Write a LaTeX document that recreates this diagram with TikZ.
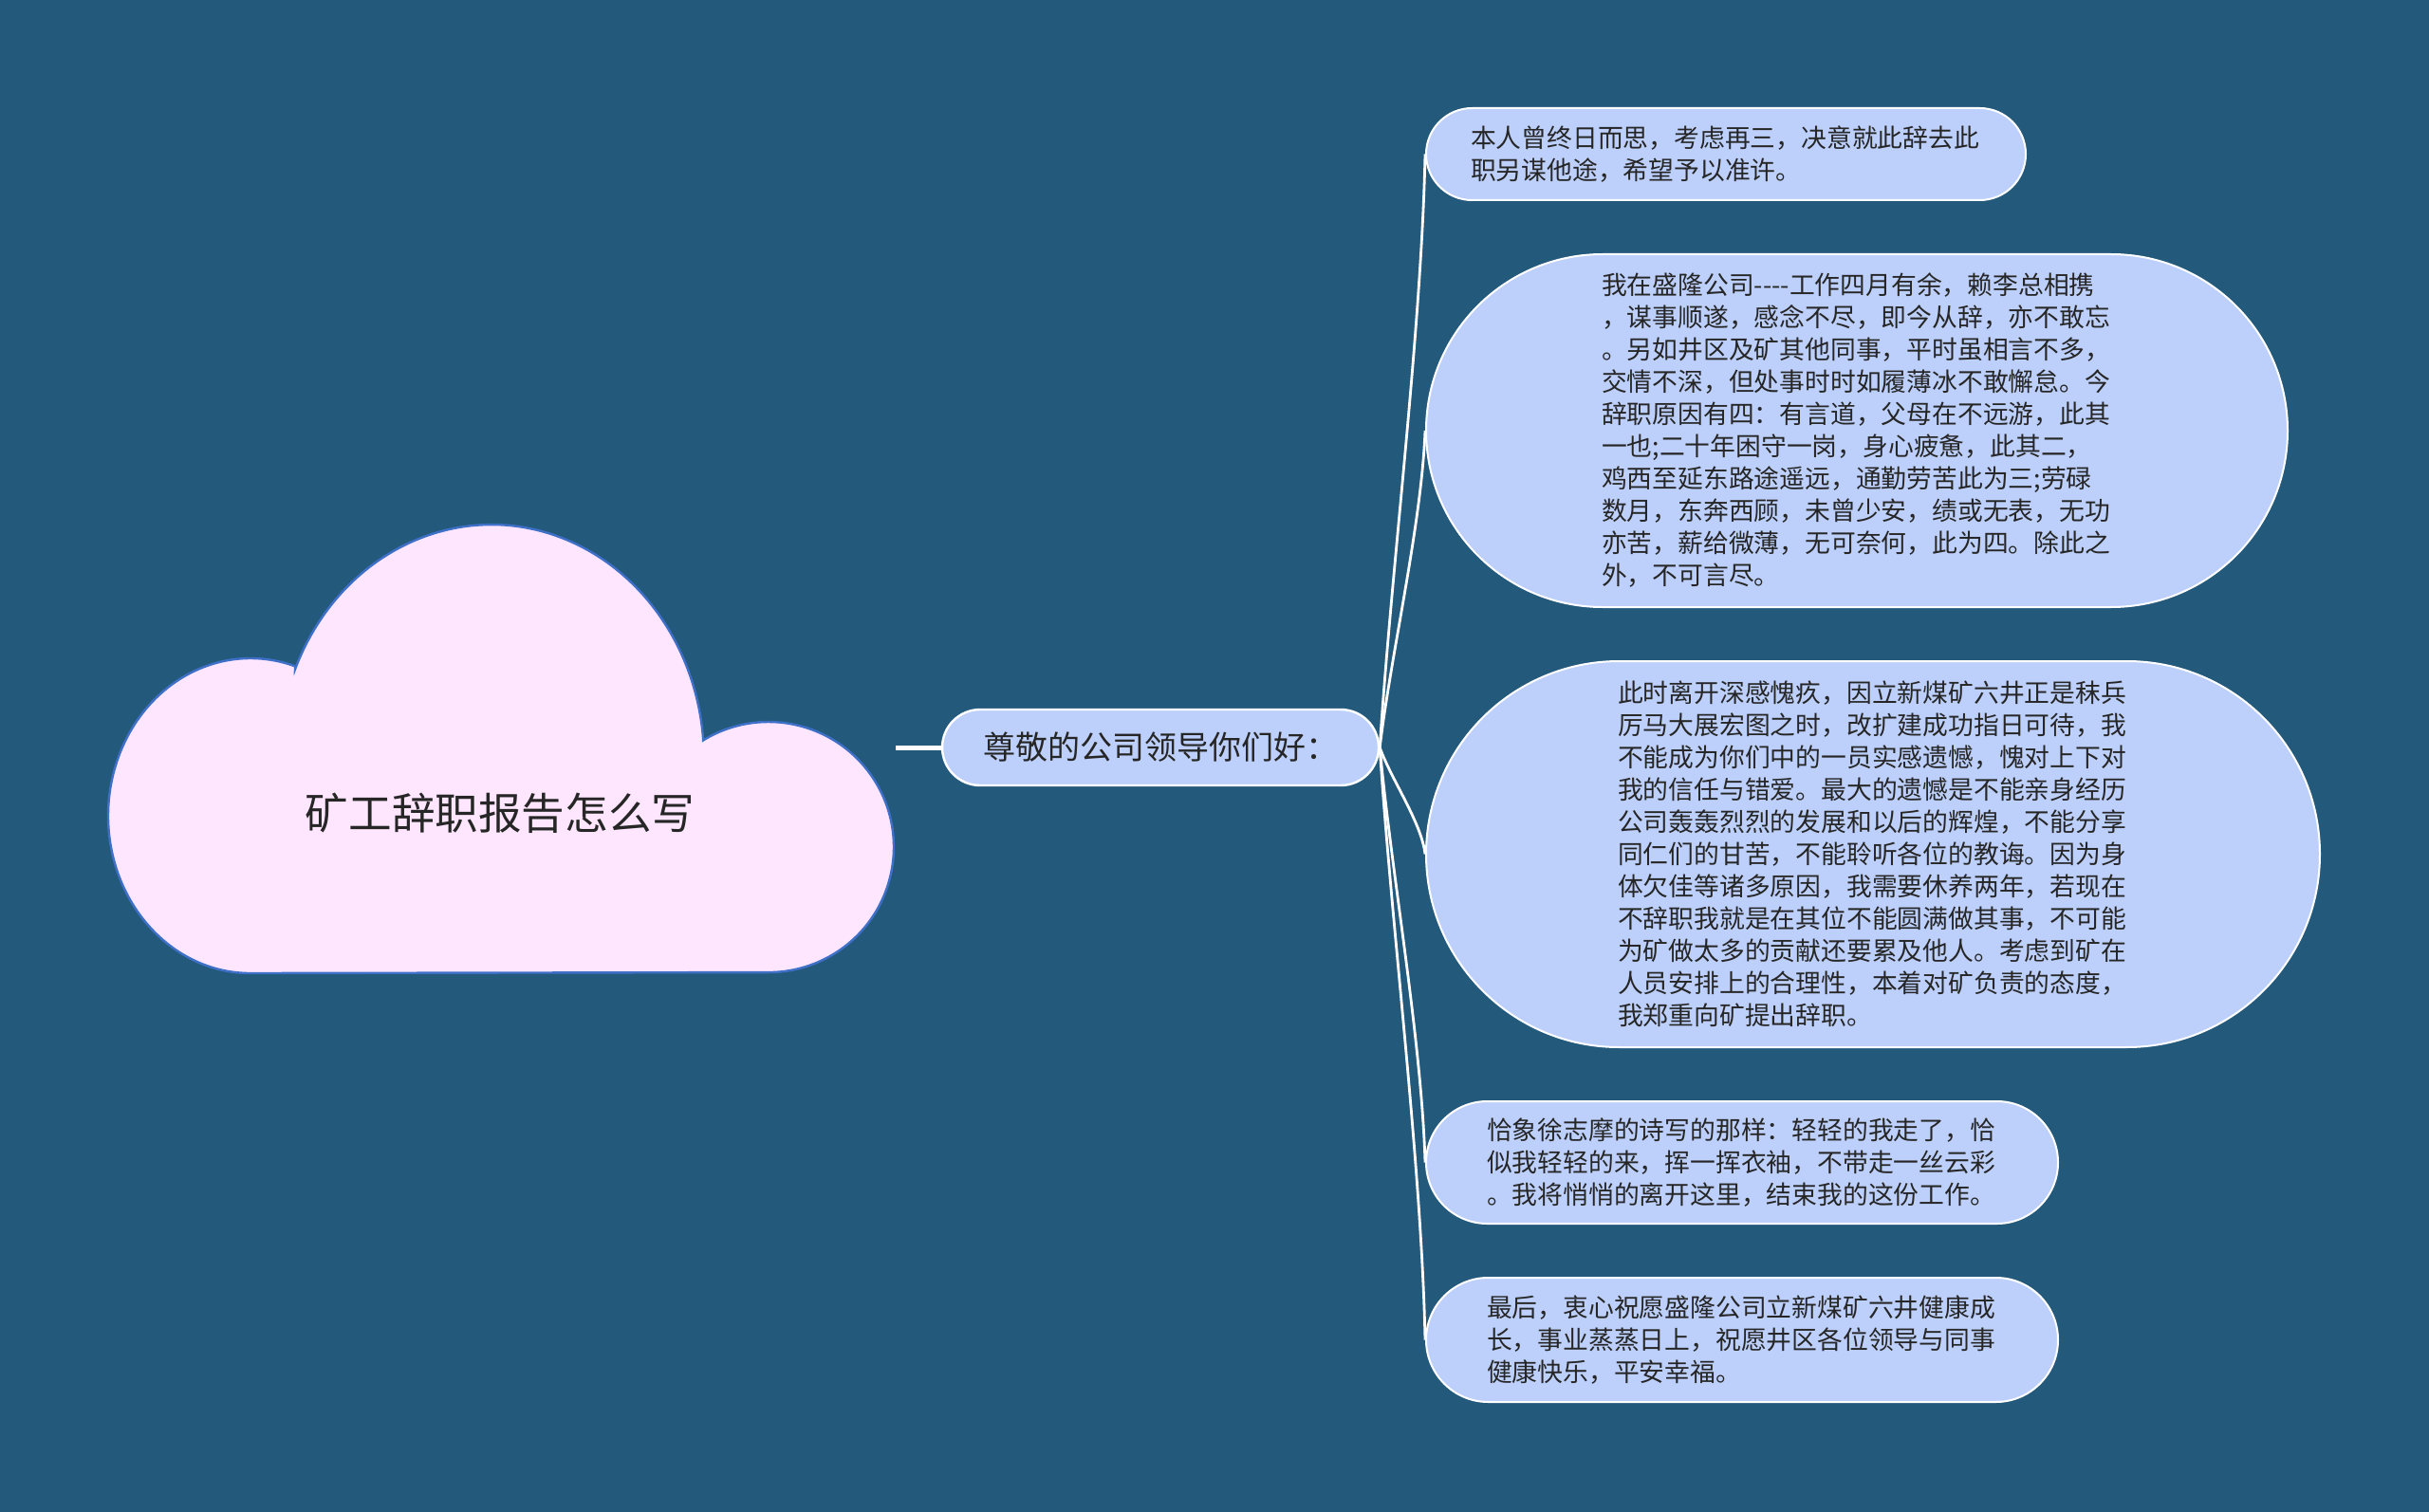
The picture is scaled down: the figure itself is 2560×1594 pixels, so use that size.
\documentclass[tikz,border=0pt]{standalone}
\usepackage{fontspec}
\setmainfont{Noto Sans CJK SC}
\usetikzlibrary{shapes.misc,calc}
\definecolor{bg}{RGB}{35,89,123}
\definecolor{leaf}{RGB}{189,208,251}
\definecolor{cloudfill}{RGB}{255,230,255}
\definecolor{cloudline}{RGB}{62,112,200}
\definecolor{ink}{RGB}{38,38,38}
\tikzset{
  leafbox/.style={rounded rectangle, fill=leaf, draw=white, line width=1pt,
    text width=269pt, align=left, inner xsep=0pt, inner ysep=0pt,
    font=\fontsize{13.4pt}{17pt}\selectfont, text=ink, anchor=west},
  hubbox/.style={rounded rectangle, fill=leaf, draw=white, line width=1.2pt,
    inner xsep=0pt, inner ysep=0pt, minimum height=40pt, minimum width=230pt,
    font=\fontsize{17pt}{20pt}\selectfont, text=ink},
  trunk/.style={draw=white, line width=2.5pt},
  twig/.style={draw=white, line width=1.4pt}
}
\begin{document}
\begin{tikzpicture}[x=0.5pt,y=-0.5pt]
\fill[bg] (0,0) rectangle (2560,1594);
\useasboundingbox (0,0) rectangle (2560,1594);

% cloud
\draw[fill=cloudfill, draw=cloudline, line width=1.2pt]
  (264,1026) arc[start angle=90, end angle=288.3, x radius=150, y radius=166]
  -- (311,705.6) arc[start angle=202.5, end angle=354.6, x radius=224, y radius=247]
  -- (741,780.5) arc[start angle=238.5, end angle=450, x radius=132, y radius=132]
  -- cycle;
\node[font=\fontsize{22.8pt}{26pt}\selectfont, text=ink] (title) at (527,857) {矿工辞职报告怎么写};
\coordinate (cloudR) at (944,788);

% hub
\node[hubbox] (hub) at (1223,788) {尊敬的公司领导你们好：};
\draw[trunk] (cloudR) -- (hub.west);

% leaves
\node[leafbox, minimum height=48.5pt, minimum width=316pt] (c1) at (1502,162.5)
 {本人曾终日而思，考虑再三，决意就此辞去此\\职另谋他途，希望予以准许。};
\node[leafbox, minimum height=186pt, minimum width=454pt] (c2) at (1502,454)
 {我在盛隆公司-\kern0pt-\kern0pt-\kern0pt-工作四月有余，赖李总相携\\
，谋事顺遂，感念不尽，即今从辞，亦不敢忘\\
。另如井区及矿其他同事，平时虽相言不多，\\
交情不深，但处事时时如履薄冰不敢懈怠。今\\
辞职原因有四：有言道，父母在不远游，此其\\
一也;二十年困守一岗，身心疲惫，此其二，\\
鸡西至延东路途遥远，通勤劳苦此为三;劳碌\\
数月，东奔西顾，未曾少安，绩或无表，无功\\
亦苦，薪给微薄，无可奈何，此为四。除此之\\
外，不可言尽。};
\node[leafbox, minimum height=203.5pt, minimum width=471pt] (c3) at (1502,900.5)
 {此时离开深感愧疚，因立新煤矿六井正是秣兵\\
厉马大展宏图之时，改扩建成功指日可待，我\\
不能成为你们中的一员实感遗憾，愧对上下对\\
我的信任与错爱。最大的遗憾是不能亲身经历\\
公司轰轰烈烈的发展和以后的辉煌，不能分享\\
同仁们的甘苦，不能聆听各位的教诲。因为身\\
体欠佳等诸多原因，我需要休养两年，若现在\\
不辞职我就是在其位不能圆满做其事，不可能\\
为矿做太多的贡献还要累及他人。考虑到矿在\\
人员安排上的合理性，本着对矿负责的态度，\\
我郑重向矿提出辞职。};
\node[leafbox, minimum height=64.5pt, minimum width=333pt] (c4) at (1502,1225.5)
 {恰象徐志摩的诗写的那样：轻轻的我走了，恰\\
似我轻轻的来，挥一挥衣袖，不带走一丝云彩\\
。我将悄悄的离开这里，结束我的这份工作。};
\node[leafbox, minimum height=65.5pt, minimum width=333pt] (c5) at (1502,1412.5)
 {最后，衷心祝愿盛隆公司立新煤矿六井健康成\\
长，事业蒸蒸日上，祝愿井区各位领导与同事\\
健康快乐，平安幸福。};

\foreach \c in {c1,c2,c3,c4,c5}
  \draw[twig] let \p1=(hub.east), \p2=(\c.west) in
    (\p1) .. controls (\x1+6pt, {\y1+0.3*(\y2-\y1)}) and (\x2-2pt, {\y2-0.3*(\y2-\y1)}) .. (\p2);
\end{tikzpicture}
\end{document}
